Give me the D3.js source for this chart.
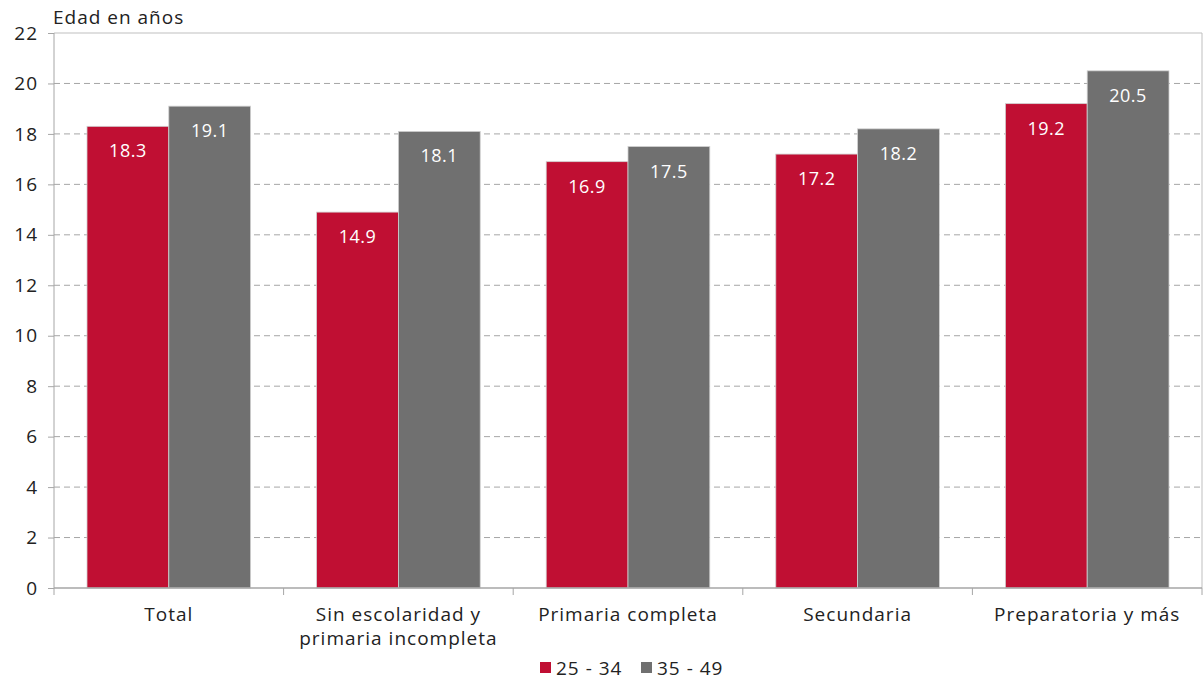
<!DOCTYPE html>
<html><head><meta charset="utf-8">
<script src="https://cdn.jsdelivr.net/npm/d3@7"></script>
<style>body{margin:0;background:#fff}svg{display:block}text{font-family:"Open Sans",sans-serif}</style>
</head><body><div id="chart"></div>
<script>
const categories = [["Total"],["Sin escolaridad y","primaria incompleta"],["Primaria completa"],["Secundaria"],["Preparatoria y más"]];
const seriesNames = ["25 - 34","35 - 49"];
const s1 = [18.3,14.9,16.9,17.2,19.2];
const s2 = [19.1,18.1,17.5,18.2,20.5];
const yTicks = [0,2,4,6,8,10,12,14,16,18,20,22];
const colors = ["#C00F33","#707070"];

const W=1204,H=681, L=54, R=1202, T=33, B=588;
const svg=d3.select("#chart").append("svg").attr("width",W).attr("height",H);
const x=d3.scaleBand().domain(d3.range(categories.length)).range([L,R]).paddingInner(0).paddingOuter(0);
const bw=x.bandwidth();
const inner=d3.scaleBand().domain([0,1]).range([33/229.6*bw, bw-33/229.6*bw]);
const y=d3.scaleLinear().domain([0,22]).range([B,T]);

// gridlines
svg.append("g").selectAll("line").data(yTicks.filter(d=>d>0&&d<22)).join("line")
 .attr("x1",L).attr("x2",R).attr("y1",d=>y(d)).attr("y2",d=>y(d))
 .attr("stroke","#a6a6a6").attr("stroke-width",1).attr("stroke-dasharray","6,4");
// border
svg.append("line").attr("x1",L).attr("x2",R).attr("y1",y(22)).attr("y2",y(22)).attr("stroke","#bfbfbf");
svg.append("line").attr("x1",R).attr("x2",R).attr("y1",y(22)).attr("y2",B).attr("stroke","#bfbfbf");

const data=categories.map((c,i)=>[s1[i],s2[i]]);
const g=svg.append("g");
data.forEach((vals,i)=>{
  vals.forEach((v,j)=>{
    const bx=x(i)+inner(j);
    g.append("rect").attr("x",bx).attr("y",y(v)).attr("width",inner.bandwidth()).attr("height",B-y(v))
     .attr("fill",colors[j]).attr("stroke","#d0d0d0").attr("stroke-width",0.8);
    g.append("text").attr("x",bx+inner.bandwidth()/2).attr("y",y(v)+31).attr("text-anchor","middle")
     .attr("fill","#fff").attr("font-size",18).attr("letter-spacing",0.5).text(v.toFixed(1));
  });
});

// y axis
const ya=svg.append("g").attr("transform",`translate(${L},0)`).call(d3.axisLeft(y).tickValues(yTicks).tickSize(6).tickPadding(10).tickFormat(d3.format("d")));
ya.select(".domain").attr("stroke","#a6a6a6").attr("d",`M0,${T}V${B}`);
ya.selectAll(".tick line").attr("stroke","#a6a6a6");
ya.selectAll(".tick text").attr("font-size",19).attr("letter-spacing",1).attr("fill","#222").attr("font-family","'Open Sans',sans-serif");

// x axis
const xa=svg.append("g").attr("transform",`translate(0,${B})`);
xa.append("line").attr("x1",L).attr("x2",R).attr("stroke","#a6a6a6").attr("stroke-width",1.5);
const bounds=d3.range(categories.length+1).map(i=>L+i*bw);
xa.selectAll(".tk").data(bounds).join("line").attr("x1",d=>d).attr("x2",d=>d).attr("y1",0).attr("y2",7).attr("stroke","#a6a6a6");
xa.selectAll(".lbl").data(categories).join("text").attr("text-anchor","middle")
 .attr("font-size",19).attr("letter-spacing",1).attr("fill","#222")
 .attr("x",(d,i)=>x(i)+bw/2)
 .each(function(d){ d.forEach((ln,k)=>d3.select(this).append("tspan").attr("x",d3.select(this).attr("x")).attr("y",33+k*24).text(ln)); });

svg.append("text").attr("x",53).attr("y",24).attr("font-size",19).attr("letter-spacing",1).attr("fill","#222").text("Edad en años");

// legend
const lg=svg.append("g");
const lx=[540,641];
seriesNames.forEach((n,j)=>{
  lg.append("rect").attr("x",lx[j]).attr("y",662).attr("width",11).attr("height",11).attr("fill",colors[j]);
  lg.append("text").attr("x",lx[j]+16).attr("y",675).attr("font-size",19).attr("letter-spacing",1).attr("fill","#222").text(n);
});
</script></body></html>
